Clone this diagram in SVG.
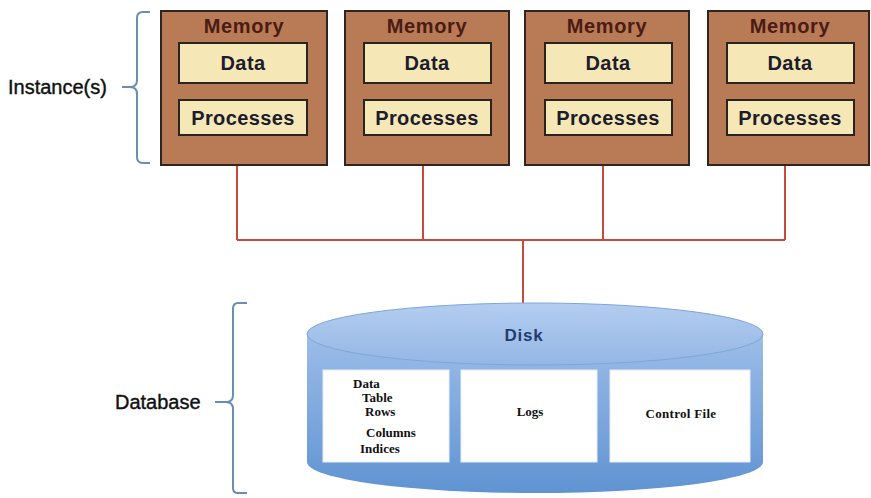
<svg xmlns="http://www.w3.org/2000/svg" width="871" height="498" viewBox="0 0 871 498">
<defs>
<linearGradient id="side" x1="0" y1="0" x2="0" y2="1">
<stop offset="0" stop-color="#9dbde8"/>
<stop offset="1" stop-color="#5f93d2"/>
</linearGradient>
<linearGradient id="top" x1="0" y1="0" x2="0" y2="1">
<stop offset="0" stop-color="#b3cdf0"/>
<stop offset="1" stop-color="#94b7e5"/>
</linearGradient>
</defs>
<style>
.mem{fill:#b97a56;stroke:#2e2420;stroke-width:2}
.inner{fill:#f6e8b6;stroke:#2a2420;stroke-width:2}
.memt{font-family:"Liberation Sans",Arial,sans-serif;font-size:20px;font-weight:bold;letter-spacing:0.6px;fill:#4a1c14;text-anchor:middle}
.int{font-family:"Liberation Sans",Arial,sans-serif;font-size:20px;font-weight:bold;letter-spacing:0.4px;fill:#1c1c2c;text-anchor:middle}
.lbl{font-family:"Liberation Sans",Arial,sans-serif;font-size:20px;fill:#111;stroke:#111;stroke-width:0.4}
.brace{fill:none;stroke:#6a8db4;stroke-width:2}
.conn{fill:none;stroke:#c84a3c;stroke-width:2}
.wb{fill:#fff;stroke:#e6eef8;stroke-width:1}
.st{font-family:"Liberation Serif","Times New Roman",serif;font-size:13px;font-weight:bold;fill:#111}
</style>
<rect width="871" height="498" fill="#fff"/>

<g id="connectors">
<path class="conn" d="M237,166 V240 M423,166 V240 M603,166 V240 M785,166 V240 M237,240 H785 M523,240 V303"/>
</g>

<g id="instance1">
<rect class="mem" x="161" y="11" width="166" height="154"/>
<text class="memt" x="244" y="33">Memory</text>
<rect class="inner" x="179" y="43" width="128" height="40"/>
<text class="int" x="243" y="70">Data</text>
<rect class="inner" x="179" y="100" width="128" height="35"/>
<text class="int" x="243" y="125">Processes</text>
</g>
<g id="instance2">
<rect class="mem" x="345" y="11" width="164" height="154"/>
<text class="memt" x="427" y="33">Memory</text>
<rect class="inner" x="364" y="43" width="127" height="40"/>
<text class="int" x="427" y="70">Data</text>
<rect class="inner" x="364" y="100" width="127" height="35"/>
<text class="int" x="427" y="125">Processes</text>
</g>
<g id="instance3">
<rect class="mem" x="525" y="11" width="164" height="154"/>
<text class="memt" x="607" y="33">Memory</text>
<rect class="inner" x="545" y="43" width="127" height="40"/>
<text class="int" x="608" y="70">Data</text>
<rect class="inner" x="545" y="100" width="127" height="35"/>
<text class="int" x="608" y="125">Processes</text>
</g>
<g id="instance4">
<rect class="mem" x="708" y="11" width="161" height="154"/>
<text class="memt" x="790" y="33">Memory</text>
<rect class="inner" x="727" y="43" width="127" height="40"/>
<text class="int" x="790" y="70">Data</text>
<rect class="inner" x="727" y="100" width="127" height="35"/>
<text class="int" x="790" y="125">Processes</text>
</g>

<g id="instance-label">
<text class="lbl" x="8" y="94">Instance(s)</text>
<path class="brace" d="M150,12 H143 Q137,12 137,18 V80 Q137,87 130,87 H122 M130,87 Q137,87 137,94 V157 Q137,163 143,163 H150"/>
</g>

<g id="database-label">
<text class="lbl" x="115" y="409">Database</text>
<path class="brace" d="M247,303 H238 Q233,303 233,309 V395 Q233,402 226,402 H215 M226,402 Q233,402 233,409 V488 Q233,493 238,493 H247"/>
</g>

<g id="disk">
<path d="M307,334 V462 A228,31 0 0 0 763,462 V334 Z" fill="url(#side)"/>
<ellipse cx="535" cy="334" rx="228" ry="31" fill="url(#top)" stroke="#7fa6d8" stroke-width="1"/>
<text x="524" y="341" font-family="'Liberation Sans',Arial,sans-serif" font-size="17" font-weight="bold" letter-spacing="0.8" fill="#1f3d6e" text-anchor="middle">Disk</text>
<rect class="wb" x="323" y="370" width="126" height="92"/>
<rect class="wb" x="461" y="370" width="136" height="92"/>
<rect class="wb" x="610" y="370" width="140" height="92"/>
<text class="st" x="353" y="388">Data</text>
<text class="st" x="362" y="402">Table</text>
<text class="st" x="365" y="416">Rows</text>
<text class="st" x="366" y="437">Columns</text>
<text class="st" x="360" y="453">Indices</text>
<text class="st" x="530" y="416" text-anchor="middle">Logs</text>
<text class="st" x="681" y="418" text-anchor="middle" letter-spacing="0.3">Control File</text>
</g>
</svg>
